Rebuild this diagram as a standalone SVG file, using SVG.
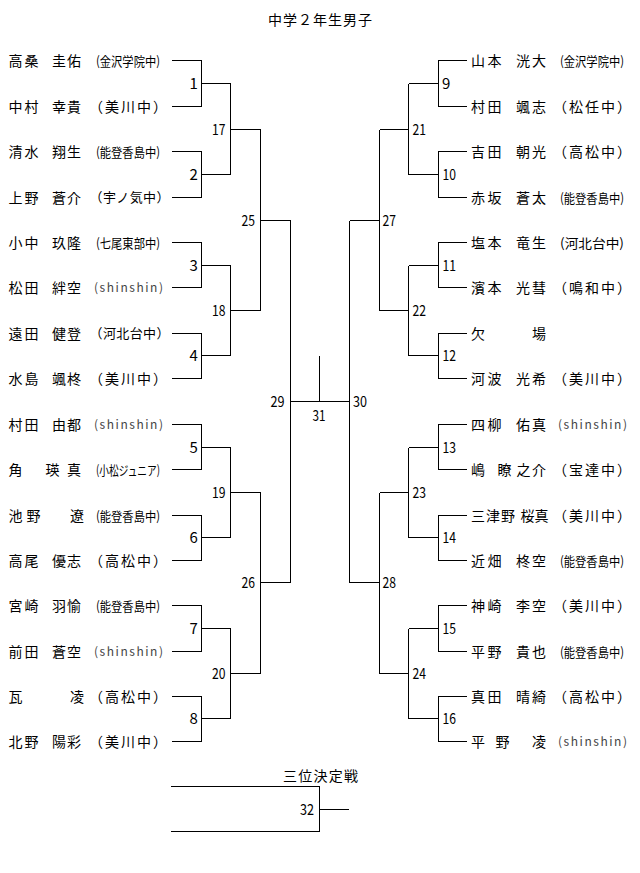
<svg xmlns="http://www.w3.org/2000/svg" width="640" height="873" viewBox="0 0 640 873">
<style>
text { font-family: "Noto Sans CJK JP", "Noto Sans", sans-serif; fill: #000; }
.nm { font-size: 14px; }
.sl { font-size: 13px; }
.s3 { font-size: 14px; letter-spacing: 2px; }
.s4 { font-size: 13px; letter-spacing: 0.4px; }
.ss { font-size: 12px; fill: #444; }
.lb { font-size: 15px; }
.ttl { font-size: 14px; }
.ln { fill: none; stroke: #000; stroke-width: 1; shape-rendering: crispEdges; }
</style>
<rect width="640" height="873" fill="#fff"/>
<text class="ttl" x="268" y="24.5" textLength="104" lengthAdjust="spacing">中学２年生男子</text>

<g id="connectors" class="ln">
<path d="M172 60.5H201.5V106.5H172M201.5 83.5H230.5"/>
<path d="M172 151.5H201.5V197.5H172M201.5 174.5H230.5"/>
<path d="M172 242.5H201.5V287.5H172M201.5 265.5H230.5"/>
<path d="M172 333.5H201.5V378.5H172M201.5 355.5H230.5"/>
<path d="M172 424.5H201.5V469.5H172M201.5 447.5H230.5"/>
<path d="M172 515.5H201.5V560.5H172M201.5 537.5H230.5"/>
<path d="M172 605.5H201.5V651.5H172M201.5 628.5H230.5"/>
<path d="M172 696.5H201.5V741.5H172M201.5 718.5H230.5"/>
<path d="M230.5 83.5V174.5M230.5 129.5H260.5"/>
<path d="M230.5 265.5V355.5M230.5 310.5H260.5"/>
<path d="M230.5 447.5V537.5M230.5 492.5H260.5"/>
<path d="M230.5 628.5V718.5M230.5 673.5H260.5"/>
<path d="M260.5 129.5V310.5M260.5 220.5H290.5"/>
<path d="M260.5 492.5V673.5M260.5 582.5H290.5"/>
<path d="M290.5 220.5V582.5M290.5 401.5H349.5"/>
<path d="M349.5 220.5V582.5"/>
<path d="M319.5 356V401.5"/>
<path d="M467 60.5H438.5V106.5H467M438.5 83.5H408.5"/>
<path d="M467 151.5H438.5V197.5H467M438.5 174.5H408.5"/>
<path d="M467 242.5H438.5V287.5H467M438.5 265.5H408.5"/>
<path d="M467 333.5H438.5V378.5H467M438.5 355.5H408.5"/>
<path d="M467 424.5H438.5V469.5H467M438.5 447.5H408.5"/>
<path d="M467 515.5H438.5V560.5H467M438.5 537.5H408.5"/>
<path d="M467 605.5H438.5V651.5H467M438.5 628.5H408.5"/>
<path d="M467 696.5H438.5V741.5H467M438.5 718.5H408.5"/>
<path d="M408.5 83.5V174.5M408.5 129.5H379.5"/>
<path d="M408.5 265.5V355.5M408.5 310.5H379.5"/>
<path d="M408.5 447.5V537.5M408.5 492.5H379.5"/>
<path d="M408.5 628.5V718.5M408.5 673.5H379.5"/>
<path d="M379.5 129.5V310.5M379.5 220.5H349.5"/>
<path d="M379.5 492.5V673.5M379.5 582.5H349.5"/>
<path d="M171 786.5H319.5V831.5H171M319.5 809.5H349"/>
</g>

<!-- left players -->
<g id="pL1"><text class="nm" x="8.5 24.5 52 67" y="65.5">高桑圭佑</text><text class="sl" x="96" y="65.5" textLength="64" lengthAdjust="spacingAndGlyphs">(金沢学院中)</text></g>
<g id="pL2"><text class="nm" x="8.5 24.5 52 67" y="111.5">中村幸貴</text><text class="s3" x="89" y="111.5">（美川中）</text></g>
<g id="pL3"><text class="nm" x="8.5 24.5 52 67" y="156.5">清水翔生</text><text class="sl" x="96" y="156.5" textLength="64" lengthAdjust="spacingAndGlyphs">(能登香島中)</text></g>
<g id="pL4"><text class="nm" x="8.5 24.5 52 67" y="202.5">上野蒼介</text><text class="s4" x="89.5" y="202">（宇ノ気中）</text></g>
<g id="pL5"><text class="nm" x="8.5 24.5 52 67" y="247.5">小中玖隆</text><text class="sl" x="96" y="247.5" textLength="64" lengthAdjust="spacingAndGlyphs">(七尾東部中)</text></g>
<g id="pL6"><text class="nm" x="8.5 24.5 52 67" y="292.5">松田絆空</text><text class="ss" x="94" y="292" textLength="69" lengthAdjust="spacing">(shinshin)</text></g>
<g id="pL7"><text class="nm" x="8.5 24.5 52 67" y="338.5">遠田健登</text><text class="s4" x="89.5" y="338">（河北台中）</text></g>
<g id="pL8"><text class="nm" x="8.5 24.5 52 67" y="383.5">水島颯柊</text><text class="s3" x="89" y="383.5">（美川中）</text></g>
<g id="pL9"><text class="nm" x="8.5 24.5 52 67" y="429.5">村田由都</text><text class="ss" x="94" y="429" textLength="69" lengthAdjust="spacing">(shinshin)</text></g>
<g id="pL10"><text class="nm" x="8.5 45.5 67" y="474.5">角瑛真</text><text class="sl" x="96" y="474.5" textLength="64" lengthAdjust="spacingAndGlyphs">(小松ジュニア)</text></g>
<g id="pL11"><text class="nm" x="8.5 26.5 70" y="520.5">池野遼</text><text class="sl" x="96" y="520.5" textLength="64" lengthAdjust="spacingAndGlyphs">(能登香島中)</text></g>
<g id="pL12"><text class="nm" x="8.5 24.5 52 67" y="565.5">高尾優志</text><text class="s3" x="89" y="565.5">（高松中）</text></g>
<g id="pL13"><text class="nm" x="8.5 24.5 52 67" y="610.5">宮崎羽愉</text><text class="sl" x="96" y="610.5" textLength="64" lengthAdjust="spacingAndGlyphs">(能登香島中)</text></g>
<g id="pL14"><text class="nm" x="8.5 24.5 52 67" y="656.5">前田蒼空</text><text class="ss" x="94" y="656" textLength="69" lengthAdjust="spacing">(shinshin)</text></g>
<g id="pL15"><text class="nm" x="8.5 70" y="701.5">瓦凌</text><text class="s3" x="89" y="701.5">（高松中）</text></g>
<g id="pL16"><text class="nm" x="8.5 24.5 52 67" y="746.5">北野陽彩</text><text class="s3" x="89" y="746.5">（美川中）</text></g>

<!-- right players -->
<g id="pR1"><text class="nm" x="471 487.5 516 532" y="65.5">山本洸大</text><text class="sl" x="560" y="65.5" textLength="64" lengthAdjust="spacingAndGlyphs">(金沢学院中)</text></g>
<g id="pR2"><text class="nm" x="471 487.5 516 532" y="111.5">村田颯志</text><text class="s3" x="553" y="111.5">（松任中）</text></g>
<g id="pR3"><text class="nm" x="471 487.5 516 532" y="156.5">吉田朝光</text><text class="s3" x="553" y="156.5">（高松中）</text></g>
<g id="pR4"><text class="nm" x="471 487.5 516 532" y="202.5">赤坂蒼太</text><text class="sl" x="560" y="202.5" textLength="64" lengthAdjust="spacingAndGlyphs">(能登香島中)</text></g>
<g id="pR5"><text class="nm" x="471 487.5 516 532" y="247.5">塩本竜生</text><text class="sl" x="560" y="247.5" textLength="64" lengthAdjust="spacingAndGlyphs">(河北台中)</text></g>
<g id="pR6"><text class="nm" x="471 487.5 516 532" y="292.5">濱本光彗</text><text class="s3" x="553" y="292.5">（鳴和中）</text></g>
<g id="pR7"><text class="nm" x="471 532" y="338.5">欠場</text></g>
<g id="pR8"><text class="nm" x="471 487.5 516 532" y="383.5">河波光希</text><text class="s3" x="553" y="383.5">（美川中）</text></g>
<g id="pR9"><text class="nm" x="471 487.5 516 532" y="429.5">四柳佑真</text><text class="ss" x="558" y="429" textLength="69" lengthAdjust="spacing">(shinshin)</text></g>
<g id="pR10"><text class="nm" x="471 497.5 516.5 532" y="474.5">嶋瞭之介</text><text class="s3" x="553" y="474.5">（宝達中）</text></g>
<g id="pR11"><text class="nm" x="471 486 501 520.5 534.5" y="520.5">三津野桜真</text><text class="s3" x="553" y="520.5">（美川中）</text></g>
<g id="pR12"><text class="nm" x="471 487.5 516 532" y="565.5">近畑柊空</text><text class="sl" x="560" y="565.5" textLength="64" lengthAdjust="spacingAndGlyphs">(能登香島中)</text></g>
<g id="pR13"><text class="nm" x="471 487.5 516 532" y="610.5">神崎李空</text><text class="s3" x="553" y="610.5">（美川中）</text></g>
<g id="pR14"><text class="nm" x="471 487.5 516 532" y="656.5">平野貴也</text><text class="sl" x="560" y="656.5" textLength="64" lengthAdjust="spacingAndGlyphs">(能登香島中)</text></g>
<g id="pR15"><text class="nm" x="471 487.5 516 532" y="701.5">真田晴綺</text><text class="s3" x="553" y="701.5">（高松中）</text></g>
<g id="pR16"><text class="nm" x="471 495.5 532" y="746.5">平野凌</text><text class="ss" x="558" y="746" textLength="69" lengthAdjust="spacing">(shinshin)</text></g>

<!-- match numbers -->
<g id="m1"><text class="lb" x="189.5" y="89">1</text></g>
<g id="m2"><text class="lb" x="189.5" y="180">2</text></g>
<g id="m3"><text class="lb" x="189.5" y="271">3</text></g>
<g id="m4"><text class="lb" x="189.5" y="361">4</text></g>
<g id="m5"><text class="lb" x="189.5" y="453">5</text></g>
<g id="m6"><text class="lb" x="189.5" y="543">6</text></g>
<g id="m7"><text class="lb" x="189.5" y="634">7</text></g>
<g id="m8"><text class="lb" x="189.5" y="724">8</text></g>
<g id="m9"><text class="lb" x="442" y="89">9</text></g>
<g id="m10"><text class="lb" x="442.5" y="180" textLength="13.5" lengthAdjust="spacingAndGlyphs">10</text></g>
<g id="m11"><text class="lb" x="442.5" y="271" textLength="13.5" lengthAdjust="spacingAndGlyphs">11</text></g>
<g id="m12"><text class="lb" x="442.5" y="361" textLength="13.5" lengthAdjust="spacingAndGlyphs">12</text></g>
<g id="m13"><text class="lb" x="442.5" y="453" textLength="13.5" lengthAdjust="spacingAndGlyphs">13</text></g>
<g id="m14"><text class="lb" x="442.5" y="543" textLength="13.5" lengthAdjust="spacingAndGlyphs">14</text></g>
<g id="m15"><text class="lb" x="442.5" y="634" textLength="13.5" lengthAdjust="spacingAndGlyphs">15</text></g>
<g id="m16"><text class="lb" x="442.5" y="724" textLength="13.5" lengthAdjust="spacingAndGlyphs">16</text></g>
<g id="m17"><text class="lb" x="212" y="135" textLength="13.5" lengthAdjust="spacingAndGlyphs">17</text></g>
<g id="m18"><text class="lb" x="212" y="316" textLength="13.5" lengthAdjust="spacingAndGlyphs">18</text></g>
<g id="m19"><text class="lb" x="212" y="498" textLength="13.5" lengthAdjust="spacingAndGlyphs">19</text></g>
<g id="m20"><text class="lb" x="212" y="679" textLength="13.5" lengthAdjust="spacingAndGlyphs">20</text></g>
<g id="m21"><text class="lb" x="412.5" y="135" textLength="13.5" lengthAdjust="spacingAndGlyphs">21</text></g>
<g id="m22"><text class="lb" x="412.5" y="316" textLength="13.5" lengthAdjust="spacingAndGlyphs">22</text></g>
<g id="m23"><text class="lb" x="412.5" y="498" textLength="13.5" lengthAdjust="spacingAndGlyphs">23</text></g>
<g id="m24"><text class="lb" x="412.5" y="679" textLength="13.5" lengthAdjust="spacingAndGlyphs">24</text></g>
<g id="m25"><text class="lb" x="241.5" y="226" textLength="13.5" lengthAdjust="spacingAndGlyphs">25</text></g>
<g id="m26"><text class="lb" x="241.5" y="588" textLength="13.5" lengthAdjust="spacingAndGlyphs">26</text></g>
<g id="m27"><text class="lb" x="382.5" y="226" textLength="13.5" lengthAdjust="spacingAndGlyphs">27</text></g>
<g id="m28"><text class="lb" x="382.5" y="588" textLength="13.5" lengthAdjust="spacingAndGlyphs">28</text></g>
<g id="m29"><text class="lb" x="270.5" y="407" textLength="14" lengthAdjust="spacingAndGlyphs">29</text></g>
<g id="m30"><text class="lb" x="353" y="407" textLength="14" lengthAdjust="spacingAndGlyphs">30</text></g>
<g id="m31"><text class="lb" x="312.5" y="421" textLength="13" lengthAdjust="spacingAndGlyphs">31</text></g>
<g id="m32"><text class="ttl" x="283" y="781" textLength="75" lengthAdjust="spacing">三位決定戦</text><text class="lb" x="300" y="815" textLength="14" lengthAdjust="spacingAndGlyphs">32</text></g>
</svg>
